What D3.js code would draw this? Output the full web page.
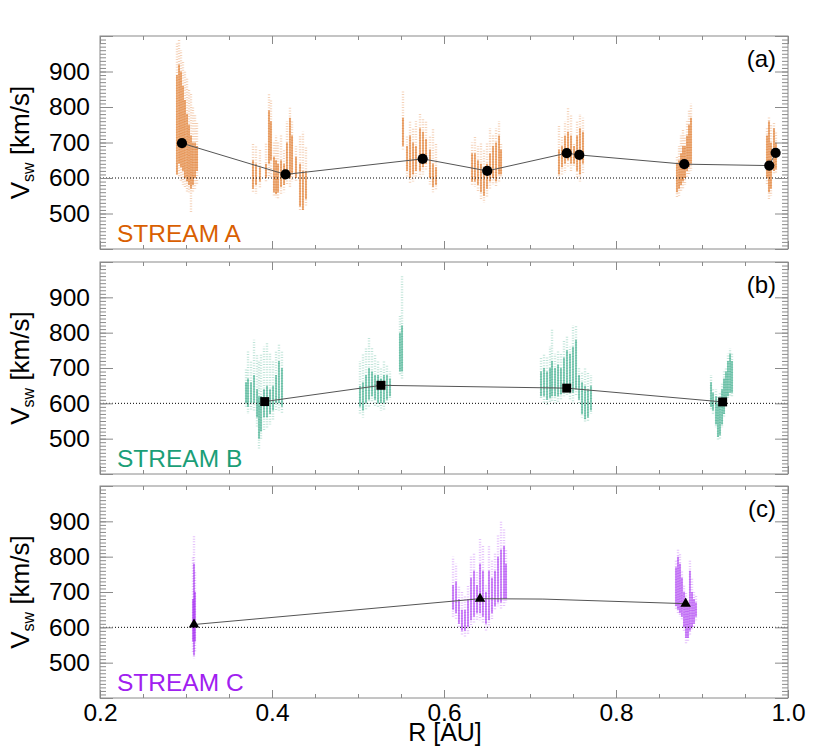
<!DOCTYPE html>
<html><head><meta charset="utf-8">
<script src="https://cdn.jsdelivr.net/npm/d3@7"></script>
<style>body{margin:0;background:#fff}svg{display:block}text{font-family:"Liberation Sans",Arial,Helvetica,sans-serif;fill:#000}</style>
</head><body><svg id="c" width="830" height="747"></svg>
<script>
// ---------- data ----------
const xTicks = [0.2, 0.4, 0.6, 0.8, 1.0];
const yTicks = [500, 600, 700, 800, 900];
const streamNames = ["STREAM A", "STREAM B", "STREAM C"];
const panelTags = ["(a)", "(b)", "(c)"];
const streamColors = ["#d95f02", "#1b9e77", "#a020f0"];
const refSpeed = 600;

// mean speed per crossing [R (AU), V (km/s)]
const markersA = [[0.2953,698],[0.4157,610],[0.5752,654],[0.6503,620],[0.7427,670],[0.7573,665],[0.8794,639],[0.9782,635],[0.9856,671]];
const markersB = [[0.3915,605],[0.5267,651],[0.7427,643],[0.9240,604]];
const markersC = [[0.3093,608],[0.6419,681],[0.8810,667]];
const lineC = [[0.3093,608],[0.6419,681],[0.7150,680],[0.8810,667]];

// in-situ speed streaks [R, faint low, faint high, dense low, dense high]
const streaksA = [
 [0.2895,610,980,610,890],[0.2919,600,990,640,920],[0.2942,590,960,630,900],[0.2965,580,930,620,860],
 [0.2988,570,900,600,820],[0.3012,560,880,590,780],[0.3035,560,850,580,750],[0.3058,500,840,570,720],
 [0.3081,560,800,580,700],[0.3105,570,780,600,700],[0.3128,580,760,620,690],
 [0.3779,560,700,570,650],[0.3814,555,690,580,640],[0.3860,570,680,590,630],[0.3930,590,700,600,640],
 [0.3965,600,840,640,790],[0.3988,600,820,650,760],[0.4023,550,700,560,660],[0.4047,545,720,555,650],
 [0.4070,540,700,560,640],[0.4105,555,720,575,650],[0.4140,560,680,580,640],[0.4174,580,760,600,700],
 [0.4209,575,800,600,770],[0.4233,590,760,610,720],[0.4279,590,690,600,660],[0.4326,510,720,520,640],
 [0.4360,505,730,510,620],[0.4395,520,690,540,620],
 [0.5523,680,845,690,770],[0.5570,600,720,620,690],[0.5605,585,760,600,720],[0.5640,590,740,610,700],
 [0.5674,600,760,620,690],[0.5721,600,780,620,740],[0.5756,610,770,630,730],[0.5791,620,760,640,710],
 [0.5837,580,720,600,680],[0.5872,560,740,575,640],[0.5907,565,700,580,630],
 [0.6326,580,700,590,670],[0.6360,575,720,590,670],[0.6395,560,690,580,650],[0.6430,540,700,560,640],
 [0.6465,530,680,550,630],[0.6500,545,700,570,640],[0.6535,570,740,590,670],[0.6570,580,720,600,690],
 [0.6605,575,740,590,700],[0.6640,590,760,610,720],[0.6663,600,700,610,680],
 [0.7337,595,750,610,680],[0.7372,610,720,630,690],[0.7407,615,760,640,720],[0.7442,630,800,650,730],
 [0.7477,620,780,640,720],[0.7512,630,700,640,690],[0.7547,600,760,620,720],[0.7581,590,780,610,740],
 [0.7616,610,770,640,730],
 [0.8709,545,660,560,640],[0.8733,550,690,570,650],[0.8756,560,720,580,670],[0.8779,570,740,590,690],
 [0.8802,580,720,600,690],[0.8826,600,760,620,720],[0.8849,610,790,630,750],[0.8872,620,810,640,770],
 [0.9756,580,740,600,720],[0.9779,540,775,560,760],[0.9802,550,750,570,700],[0.9837,610,760,620,740],
 [0.9860,615,730,625,700]
];
const streaksB = [
 [0.3698,590,700,600,660],[0.3721,570,750,590,670],[0.3756,580,720,600,660],[0.3791,580,780,600,680],
 [0.3826,530,740,560,640],[0.3849,470,720,500,620],[0.3872,500,740,520,620],[0.3907,520,760,560,640],
 [0.3942,530,770,560,650],[0.3977,540,740,570,640],[0.4012,550,720,580,650],[0.4047,580,750,600,680],
 [0.4081,580,770,600,720],[0.4116,570,750,590,700],
 [0.5023,570,720,590,650],[0.5058,560,740,580,660],[0.5093,580,760,600,680],[0.5128,590,790,610,700],
 [0.5163,600,760,620,690],[0.5198,590,740,610,680],[0.5233,590,720,600,680],[0.5267,580,700,600,670],
 [0.5302,580,720,600,680],[0.5337,600,710,610,680],[0.5372,610,690,620,670],[0.5488,680,850,690,800],
 [0.5512,670,960,690,820],
 [0.7128,610,730,620,690],[0.7163,600,740,620,700],[0.7198,595,730,610,690],[0.7233,600,760,615,700],
 [0.7256,605,810,620,720],[0.7291,600,740,620,700],[0.7326,600,750,620,710],[0.7360,610,740,625,700],
 [0.7395,620,780,640,730],[0.7430,620,790,640,750],[0.7465,610,760,630,740],[0.7500,600,820,630,760],
 [0.7535,620,820,640,780],[0.7570,600,700,610,680],[0.7605,560,690,570,660],[0.7640,545,700,555,650],
 [0.7674,550,690,560,640],[0.7709,570,680,580,650],
 [0.9105,580,680,590,660],[0.9128,570,640,580,630],[0.9163,530,640,540,620],[0.9186,495,620,505,600],
 [0.9209,500,630,510,610],[0.9233,530,660,540,640],[0.9256,560,690,570,670],[0.9279,600,700,605,690],
 [0.9302,610,740,620,720],[0.9326,620,755,630,740],[0.9349,620,740,630,720]
];
const streaksC = [
 [0.3081,530,800,560,680],[0.3093,512,862,520,780],[0.3105,530,760,560,700],
 [0.6105,630,800,650,720],[0.6140,620,780,640,730],[0.6174,600,720,610,680],[0.6209,580,700,590,650],
 [0.6244,570,690,590,650],[0.6279,580,720,600,680],[0.6314,600,800,620,740],[0.6349,610,810,630,760],
 [0.6384,620,760,640,720],[0.6419,620,850,640,780],[0.6453,610,830,630,760],[0.6488,590,720,610,700],
 [0.6523,600,830,620,760],[0.6558,620,790,640,740],[0.6593,650,810,660,760],[0.6628,660,860,670,800],
 [0.6663,650,900,670,820],[0.6698,660,880,680,830],[0.6721,670,820,680,780],
 [0.8698,650,790,660,770],[0.8721,640,820,650,800],[0.8744,630,810,640,780],[0.8767,620,760,630,740],
 [0.8791,590,720,600,700],[0.8814,550,700,570,680],[0.8837,560,680,570,660],[0.8860,580,790,590,760],
 [0.8884,590,740,600,700],[0.8907,600,700,610,680],[0.8930,620,690,630,670]
];

// ---------- layout ----------
const svg = d3.select("#c");
const X0 = 100, X1 = 788;
const panels = [{top:36,bottom:249},{top:262,bottom:474},{top:486,bottom:698}];
const x = d3.scaleLinear().domain([0.2, 1.0]).range([X0, X1]);
const xMinor = d3.range(0.2, 1.0001, 0.05);
const yMinor = d3.range(400, 1001, 10);
const axisGray = "#8a8a8a";

const allStreaks = [streaksA, streaksB, streaksC];
const allMarkers = [markersA, markersB, markersC];
const allLines = [markersA, markersB, lineC];
const symbols = [d3.symbolCircle, d3.symbolSquare, d3.symbolTriangle];
const symbolSizes = [82, 80, 48];

panels.forEach((p, i) => {
  const y = d3.scaleLinear().domain([400, 1000]).range([p.bottom, p.top]);
  const g = svg.append("g");
  const col = streamColors[i];

  // streaks (in-situ data): faint speckled halo and denser core
  const sg = g.append("g");
  sg.selectAll("line.f").data(allStreaks[i]).join("line")
    .attr("x1", d => x(d[0])).attr("x2", d => x(d[0]))
    .attr("y1", d => y(d[1])).attr("y2", d => y(d[2]))
    .attr("stroke", col).attr("stroke-width", 2.4).attr("stroke-opacity", 0.28)
    .attr("stroke-dasharray", "1 1.6")
    .attr("stroke-dashoffset", (d, k) => (k * 0.9) % 2.6);
  sg.selectAll("line.c").data(allStreaks[i]).join("line")
    .attr("x1", d => x(d[0])).attr("x2", d => x(d[0]))
    .attr("y1", d => y(d[3])).attr("y2", d => y(d[4]))
    .attr("stroke", col).attr("stroke-width", 1.4).attr("stroke-opacity", 0.72);

  // reference 600 km/s dotted line
  g.append("line").attr("x1", X0).attr("x2", X1)
    .attr("y1", y(refSpeed)).attr("y2", y(refSpeed))
    .attr("stroke", "#000").attr("stroke-width", 1).attr("stroke-dasharray", "1 2");

  // connecting line
  g.append("path").datum(allLines[i])
    .attr("d", d3.line().x(d => x(d[0])).y(d => y(d[1])))
    .attr("fill", "none").attr("stroke", "#555").attr("stroke-width", 1);

  // markers
  g.selectAll("path.m").data(allMarkers[i]).join("path")
    .attr("transform", d => `translate(${x(d[0])},${y(d[1])})`)
    .attr("d", d3.symbol().type(symbols[i]).size(symbolSizes[i]))
    .attr("fill", "#000");

  // frame
  g.append("rect").attr("x", X0).attr("y", p.top).attr("width", X1 - X0).attr("height", p.bottom - p.top)
    .attr("fill", "none").attr("stroke", axisGray).attr("stroke-width", 1);

  // y axis minor + major (left & right), inward ticks
  g.append("g").attr("transform", `translate(${X0},0)`)
    .call(d3.axisLeft(y).tickValues(yMinor).tickSize(-6).tickFormat(""));
  g.append("g").attr("transform", `translate(${X0},0)`)
    .call(d3.axisLeft(y).tickValues([400,500,600,700,800,900,1000]).tickSize(-13).tickPadding(10)
      .tickFormat(d => yTicks.includes(d) ? d : ""));
  g.append("g").attr("transform", `translate(${X1},0)`)
    .call(d3.axisRight(y).tickValues(yMinor).tickSize(-6).tickFormat(""));
  g.append("g").attr("transform", `translate(${X1},0)`)
    .call(d3.axisRight(y).tickValues([400,500,600,700,800,900,1000]).tickSize(-13).tickFormat(""));

  // x axis top & bottom
  g.append("g").attr("transform", `translate(0,${p.bottom})`)
    .call(d3.axisBottom(x).tickValues(xMinor).tickSize(-4).tickFormat(""));
  g.append("g").attr("transform", `translate(0,${p.bottom})`)
    .call(d3.axisBottom(x).tickValues(xTicks).tickSize(-8).tickPadding(6)
      .tickFormat(d => i === 2 ? d3.format(".1f")(d) : ""));
  g.append("g").attr("transform", `translate(0,${p.top})`)
    .call(d3.axisTop(x).tickValues(xMinor).tickSize(-4).tickFormat(""));
  g.append("g").attr("transform", `translate(0,${p.top})`)
    .call(d3.axisTop(x).tickValues(xTicks).tickSize(-8).tickFormat(""));

  g.selectAll(".domain").remove();
  g.selectAll(".tick line").attr("stroke", axisGray);
  g.selectAll(".tick text").attr("font-size", 24.5).attr("fill", "#000")
    .attr("font-family", '"Liberation Sans", Arial, sans-serif');

  // y axis label
  const yt = g.append("text")
    .attr("transform", `translate(28.5,${(p.top + p.bottom) / 2}) rotate(-90)`)
    .attr("text-anchor", "middle").attr("font-size", 26);
  yt.append("tspan").text("V");
  yt.append("tspan").attr("font-size", 16).attr("dy", 5).text("sw");
  yt.append("tspan").attr("dy", -5).text(" [km/s]");

  // stream name
  g.append("text").attr("x", 117).attr("y", p.bottom - 7)
    .attr("font-size", 24.5).attr("fill", col).style("fill", col).text(streamNames[i]);

  // panel tag
  g.append("text").attr("x", 776).attr("y", p.top + 30.5)
    .attr("text-anchor", "end").attr("font-size", 24).text(panelTags[i]);
});

// x axis label
svg.append("text").attr("x", 445).attr("y", 741)
  .attr("text-anchor", "middle").attr("font-size", 25).text("R [AU]");
</script></body></html>
